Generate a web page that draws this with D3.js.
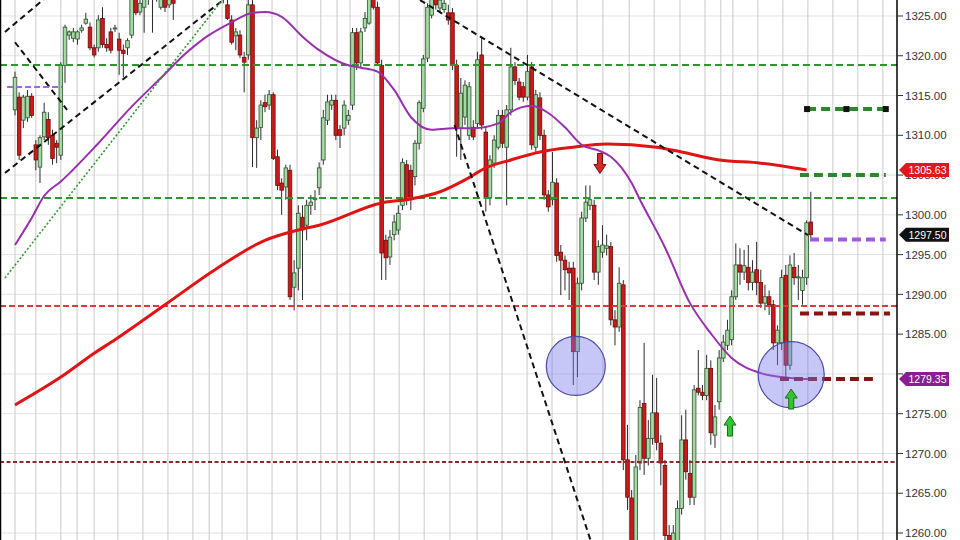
<!DOCTYPE html>
<html><head><meta charset="utf-8">
<script src="https://cdn.jsdelivr.net/npm/d3@7"></script>
<style>body{margin:0;background:#fff}svg{display:block}</style>
</head><body><svg id="c" width="960" height="540"></svg>
<script>
// ---- candle data (4h bars), prices ----
const opens=[1313.2,1314.8,1311.9,1312.2,1314.9,1308.8,1306.0,1309.8,1312.0,1310.0,1309.0,1307.5,1318.8,1322.6,1322.2,1322.1,1323.2,1324.1,1323.6,1321.0,1321.0,1324.7,1321.4,1323.0,1323.4,1322.1,1320.7,1321.0,1322.6,1327.3,1325.5,1326.1,1327.6,1328.0,1328.3,1326.1,1327.4,1326.4,1327.6,1327.6,1328.9,1329.8,1328.9,1330.5,1331.4,1330.1,1329.3,1330.1,1328.9,1328.0,1328.5,1326.4,1324.5,1322.5,1322.6,1319.8,1320.1,1326.4,1309.7,1311.0,1314.1,1313.8,1315.1,1307.3,1304.0,1303.5,1305.6,1290.9,1293.3,1299.7,1298.7,1301.2,1301.9,1303.4,1306.9,1311.9,1313.8,1314.4,1310.7,1310.9,1311.9,1313.8,1322.9,1319.1,1323.5,1324.1,1327.4,1326.1,1318.8,1296.8,1294.7,1297.5,1298.1,1301.2,1306.3,1305.6,1304.8,1309.0,1313.4,1319.7,1325.1,1327.6,1326.0,1325.8,1325.4,1325.4,1318.8,1310.9,1312.3,1310.0,1311.0,1311.5,1320.1,1310.4,1302.1,1306.5,1308.5,1312.5,1308.5,1313.2,1318.6,1316.7,1316.1,1314.8,1318.6,1308.5,1314.7,1310.0,1302.5,1301.9,1304.0,1295.3,1294.3,1293.3,1293.3,1282.8,1291.4,1299.6,1301.2,1301.2,1292.8,1295.3,1295.8,1296.0,1286.8,1285.9,1291.2,1269.2,1264.4,1258.5,1268.8,1276.3,1269.4,1271.9,1275.1,1271.3,1268.5,1259.7,1258.1,1258.5,1263.1,1271.7,1267.5,1264.5,1278.2,1277.7,1277.3,1280.7,1272.3,1276.5,1282.0,1283.6,1284.3,1289.7,1293.7,1292.8,1293.4,1291.5,1293.1,1291.5,1288.9,1289.7,1288.7,1283.9,1283.9,1292.4,1281.1,1293.4,1292.1,1290.5,1292.1,1299.1];
const highs=[1318.0,1315.4,1315.1,1315.7,1315.3,1309.4,1310.0,1314.1,1312.9,1310.7,1309.4,1319.2,1323.9,1323.2,1323.5,1323.2,1323.9,1325.4,1324.2,1321.4,1325.1,1326.1,1322.2,1323.5,1323.9,1322.9,1321.4,1322.2,1327.6,1327.6,1327.3,1327.6,1328.9,1328.9,1328.9,1328.3,1328.0,1328.3,1328.3,1329.5,1330.5,1330.8,1331.0,1332.0,1332.0,1330.8,1330.8,1330.8,1329.5,1329.3,1328.9,1327.6,1325.1,1323.5,1323.2,1320.5,1327.0,1327.0,1311.9,1314.4,1315.1,1315.7,1315.4,1308.2,1304.6,1306.3,1306.3,1294.3,1301.2,1301.2,1301.9,1302.5,1303.1,1306.6,1313.2,1315.1,1315.1,1315.1,1311.3,1314.4,1313.2,1323.5,1323.5,1323.5,1325.5,1328.0,1328.0,1326.8,1319.5,1297.5,1298.1,1300.0,1301.2,1307.1,1306.9,1306.3,1309.4,1314.4,1320.1,1326.6,1328.3,1328.3,1327.6,1327.4,1326.4,1326.0,1319.5,1317.2,1316.9,1316.7,1311.9,1320.5,1322.4,1310.9,1307.5,1310.0,1313.2,1313.2,1313.8,1321.0,1319.2,1317.2,1316.7,1320.1,1319.2,1315.7,1315.4,1310.7,1303.1,1307.9,1304.6,1296.2,1294.9,1294.1,1294.1,1292.1,1300.4,1303.7,1303.7,1301.9,1296.8,1298.7,1297.5,1296.6,1288.0,1293.4,1291.8,1273.6,1265.4,1269.8,1276.7,1283.9,1274.2,1279.9,1279.5,1272.3,1269.2,1261.0,1261.0,1264.1,1274.8,1275.5,1269.2,1278.6,1283.0,1278.6,1282.4,1281.7,1276.1,1283.0,1284.9,1286.8,1290.5,1296.4,1295.8,1295.6,1296.2,1294.3,1296.6,1293.1,1291.2,1290.5,1289.3,1286.1,1293.1,1293.7,1294.9,1295.2,1293.7,1293.1,1299.3,1302.9];
const lows=[1312.5,1306.9,1310.9,1311.7,1312.2,1305.6,1304.0,1309.4,1308.8,1306.3,1306.5,1306.9,1316.6,1322.0,1321.7,1321.4,1322.9,1323.9,1320.7,1319.8,1320.5,1321.0,1320.5,1320.3,1323.0,1317.6,1317.3,1320.1,1322.2,1325.1,1325.1,1322.9,1326.4,1322.9,1326.8,1325.8,1325.5,1326.0,1324.5,1327.3,1328.5,1328.3,1328.5,1330.1,1329.5,1328.5,1328.5,1328.3,1327.4,1327.3,1326.6,1324.5,1321.4,1320.7,1319.7,1315.4,1319.5,1306.0,1305.9,1309.4,1312.9,1313.2,1306.9,1303.1,1300.0,1301.9,1289.3,1288.0,1290.5,1289.3,1296.8,1300.0,1300.6,1302.5,1306.3,1311.3,1313.2,1309.4,1308.4,1310.0,1311.3,1313.2,1318.2,1318.5,1323.0,1323.9,1325.8,1318.8,1291.8,1291.8,1293.7,1296.8,1297.5,1300.6,1301.2,1300.6,1303.7,1308.2,1312.9,1319.2,1324.7,1325.8,1325.5,1325.4,1323.9,1318.2,1307.3,1306.9,1311.3,1309.4,1309.4,1310.9,1310.7,1300.4,1301.2,1305.9,1308.2,1308.4,1301.2,1312.5,1316.3,1314.4,1314.2,1314.4,1308.2,1307.9,1309.4,1301.9,1300.4,1301.2,1294.1,1289.9,1290.5,1289.3,1278.6,1279.6,1290.5,1299.1,1300.6,1291.8,1291.2,1294.6,1294.9,1286.1,1283.6,1285.3,1267.9,1262.9,1256.6,1256.6,1267.9,1267.3,1268.5,1271.1,1270.4,1266.0,1258.1,1256.6,1256.6,1257.6,1262.3,1266.7,1263.5,1263.5,1277.3,1276.7,1276.7,1271.1,1270.7,1275.5,1281.5,1283.0,1283.6,1289.3,1291.2,1291.8,1290.5,1290.5,1289.9,1288.3,1288.0,1287.4,1283.0,1281.1,1283.0,1279.5,1280.5,1291.2,1289.3,1288.7,1291.2,1296.8];
const closes=[1317.3,1307.5,1314.8,1314.9,1312.5,1306.9,1309.7,1312.9,1309.7,1307.1,1308.5,1318.8,1323.6,1323.0,1323.0,1323.0,1323.5,1324.6,1321.0,1320.1,1324.5,1321.4,1321.0,1320.7,1323.5,1320.7,1320.3,1321.9,1327.3,1325.4,1326.6,1327.3,1328.3,1327.4,1327.6,1327.6,1326.1,1327.6,1326.6,1328.9,1329.8,1328.9,1330.5,1331.4,1330.1,1329.3,1330.1,1328.9,1328.0,1328.5,1327.3,1324.7,1321.7,1323.0,1320.1,1319.2,1326.4,1309.7,1310.9,1313.8,1313.6,1315.1,1307.1,1303.7,1303.1,1305.9,1289.7,1292.7,1300.2,1298.1,1301.2,1301.6,1302.1,1305.9,1312.2,1314.2,1314.4,1310.0,1310.0,1313.8,1312.5,1322.9,1319.1,1323.0,1324.7,1327.4,1326.1,1319.1,1295.2,1294.6,1297.2,1299.1,1300.2,1306.6,1301.9,1301.9,1309.0,1314.1,1319.6,1326.1,1327.6,1326.4,1327.0,1326.6,1324.5,1318.8,1310.9,1315.3,1316.3,1316.1,1309.8,1319.5,1311.3,1302.1,1306.9,1309.4,1312.5,1309.0,1313.2,1318.6,1316.9,1314.8,1314.8,1318.0,1308.8,1315.1,1310.0,1302.5,1301.0,1304.1,1294.9,1294.3,1293.1,1292.7,1282.8,1291.4,1299.6,1301.6,1301.9,1292.8,1296.0,1296.2,1296.1,1286.8,1285.9,1291.4,1269.2,1264.5,1258.5,1268.3,1275.8,1269.4,1271.9,1275.1,1271.4,1268.8,1259.7,1258.5,1260.0,1263.1,1271.7,1267.7,1264.5,1278.0,1277.7,1277.3,1280.7,1272.6,1274.6,1282.0,1284.0,1285.5,1289.7,1293.7,1292.8,1293.6,1291.5,1292.8,1291.5,1288.9,1289.7,1288.7,1283.9,1285.5,1292.1,1281.1,1293.7,1292.1,1292.2,1292.1,1299.0,1297.5];

// moving averages (bar index, price)
const maPurpleIdx=[0,4,7,11,20,28,35,41,46,52,57,60,64,69,73,80,83,87,91,95,100,105,110,116,119,124,128,132,136,140,143,148,150,156,162,167,172,179,186,191];
const maPurpleVal=[1296.2,1299.6,1302.4,1304.2,1309.0,1313.6,1317.2,1320.3,1322.4,1324.2,1325.4,1325.5,1324.9,1322.4,1320.7,1318.8,1318.5,1318.0,1315.7,1312.3,1310.7,1310.9,1310.9,1311.5,1312.9,1313.7,1312.8,1311.0,1308.8,1308.1,1307.3,1304.0,1301.9,1295.9,1288.9,1285.1,1282.0,1280.1,1279.5,1279.35];
const maRedIdx=[0,11,19,24,36,48,60,68,73,88,95,102,108,113,119,126,134,142,154,160,169,179,190];
const maRedVal=[1276.1,1279.6,1282.6,1284.3,1288.7,1293.1,1296.8,1298.1,1298.7,1301.5,1302.0,1302.9,1304.4,1305.9,1306.9,1307.9,1308.5,1308.9,1308.5,1307.9,1306.9,1306.5,1305.63];

// session separators (bar index)
const sessionIdx=[0,5,11,14.9,19,24.7,30.7,36.7,42.7,46.6,49.7,55.7,61.7,67.7,73.4,77.3,80.4,86.2,92.2,98.2,104.4,110.9,116.9,122.9,128.9,134.9,141.1,147.4,153.4,159.6,165.6,169.4,172.3,178.3,184.3,190.3,196.3,202.3,208.3];

// axis ticks
const tickVals=[1260,1265,1270,1275,1280,1285,1290,1295,1300,1305,1310,1315,1320,1325];

// long horizontal levels
const levelVals=[1318.84,1302.12,1288.54,1268.93];
const levelKind=["green","green","red","dark"];

// short target levels on the right (value, from bar, to bar)
const shortVals=[1313.3,1305.0,1296.9,1287.6,1279.35];
const shortFrom=[190.1,188.4,190.8,188.4,183.6];
const shortTo=[209.0,209.0,209.0,210.0,205.9];
const shortKind=["greenMarked","green","purple","dark","dark"];

// trend lines (bar index / price end points)
const trendX1=[-2.4,-2.4,0,-2.4,97.2,105.5,-1.9];
const trendV1=[1323.0,1305.26,1321.7,1292.06,1327.0,1311.3,1316.07];
const trendX2=[10,49.9,12.5,49.7,190.3,138.5,11.3];
const trendV2=[1328.46,1327.0,1313.2,1327.0,1297.46,1258.5,1316.07];
const trendKind=["black","black","black","dotted","black","black","purple"];

// highlight circles
const circleIdx=[134.6,186.3];
const circleVal=[1281.0,1279.9];
const circleR=[29.5,33];

// arrows: bar index, tip price, direction
const arrowIdx=[140.4,171.6,186.3];
const arrowTip=[1305.2,1274.7,1278.1];
const arrowDir=["down","up","up"];

// price labels
const labelVals=[1305.63,1297.50,1279.35];
const labelFill=["#e3161d","#111111","#8b1c92"];

// ---- drawing ----
const svg=d3.select("#c");
const W=960,H=540,AX=897;
const x=d3.scaleLinear().domain([0,191]).range([15,810.8]);
const y=d3.scaleLinear().domain([1259.12,1327.01]).range([540,0]);
const FONT="Liberation Sans, Arial, sans-serif";

svg.append("rect").attr("width",W).attr("height",H).attr("fill","#fff");
svg.append("defs").append("clipPath").attr("id","clip").append("rect")
  .attr("x",1).attr("y",0).attr("width",AX-1).attr("height",H);
const g=svg.append("g").attr("clip-path","url(#clip)");

// grid
g.selectAll(".hg").data(tickVals).enter().append("line")
  .attr("x1",0).attr("x2",AX).attr("y1",d=>y(d)).attr("y2",d=>y(d))
  .attr("stroke","#e2e2e2").attr("stroke-width",1);
g.selectAll(".vg").data(sessionIdx).enter().append("line")
  .attr("x1",d=>x(d)).attr("x2",d=>x(d)).attr("y1",0).attr("y2",H)
  .attr("stroke","#c9c9c9").attr("stroke-width",1);

// candles
const idx=d3.range(opens.length);
g.selectAll(".wick").data(idx).enter().append("line")
  .attr("x1",i=>x(i)).attr("x2",i=>x(i))
  .attr("y1",i=>y(highs[i])).attr("y2",i=>y(lows[i]))
  .attr("stroke","#2b2b2b").attr("stroke-width",1);
g.selectAll(".body").data(idx).enter().append("rect")
  .attr("x",i=>x(i)-1.8).attr("width",3.6)
  .attr("y",i=>y(Math.max(opens[i],closes[i])))
  .attr("height",i=>Math.max(1,Math.abs(y(opens[i])-y(closes[i]))))
  .attr("fill",i=>closes[i]>=opens[i]?"#a3d9a3":"#cc1a1a")
  .attr("stroke",i=>closes[i]>=opens[i]?"#2f4f2f":"#6e0b0b")
  .attr("stroke-width",0.8);

// long levels
const levelStyle={green:{c:"#2f962f",d:"7,4",w:2},red:{c:"#e0383a",d:"6,3",w:2},dark:{c:"#8a2a2a",d:"4,2.5",w:2}};
g.selectAll(".lvl").data(levelVals).enter().append("line")
  .attr("x1",0).attr("x2",AX).attr("y1",d=>y(d)).attr("y2",d=>y(d))
  .attr("stroke",(d,i)=>levelStyle[levelKind[i]].c)
  .attr("stroke-width",(d,i)=>levelStyle[levelKind[i]].w)
  .attr("stroke-dasharray",(d,i)=>levelStyle[levelKind[i]].d);

// moving averages
const line=d3.line().curve(d3.curveMonotoneX);
g.append("path").attr("d",line(maRedIdx.map((d,i)=>[x(d),y(maRedVal[i])])))
  .attr("fill","none").attr("stroke","#e01414").attr("stroke-width",3);
g.append("path").attr("d",line(maPurpleIdx.map((d,i)=>[x(d),y(maPurpleVal[i])])))
  .attr("fill","none").attr("stroke","#9a2fae").attr("stroke-width",2);

// trend lines
const trendStyle={black:{c:"#111",d:"6,4",w:2},dotted:{c:"#2f9a2f",d:"2,2",w:1.6},purple:{c:"#9a6ae0",d:"6,3",w:2}};
g.selectAll(".tr").data(trendX1).enter().append("line")
  .attr("x1",(d,i)=>x(trendX1[i])).attr("y1",(d,i)=>y(trendV1[i]))
  .attr("x2",(d,i)=>x(trendX2[i])).attr("y2",(d,i)=>y(trendV2[i]))
  .attr("stroke",(d,i)=>trendStyle[trendKind[i]].c)
  .attr("stroke-width",(d,i)=>trendStyle[trendKind[i]].w)
  .attr("stroke-dasharray",(d,i)=>trendStyle[trendKind[i]].d);

// short levels
const shortStyle={greenMarked:"#2a8a2a",green:"#2a8a2a",purple:"#a05ae0",dark:"#8b1212"};
g.selectAll(".sl").data(shortVals).enter().append("line")
  .attr("x1",(d,i)=>x(shortFrom[i])).attr("x2",(d,i)=>x(shortTo[i]))
  .attr("y1",d=>y(d)).attr("y2",d=>y(d))
  .attr("stroke",(d,i)=>shortStyle[shortKind[i]])
  .attr("stroke-width",4).attr("stroke-dasharray","9,5");
shortVals.forEach((v,i)=>{
  if(shortKind[i]!=="greenMarked")return;
  const a=shortFrom[i],b=shortTo[i];
  [a,(a+b)/2,b].forEach(t=>{
    g.append("rect").attr("x",x(t)-3).attr("y",y(v)-3).attr("width",6).attr("height",6).attr("fill","#111");
  });
});

// circles
g.selectAll(".circ").data(circleIdx).enter().append("circle")
  .attr("cx",d=>x(d)).attr("cy",(d,i)=>y(circleVal[i])).attr("r",(d,i)=>circleR[i])
  .attr("fill","rgba(120,120,235,0.42)").attr("stroke","#4a4aa8").attr("stroke-width",1.2);

// arrows
arrowIdx.forEach((d,i)=>{
  const cx=x(d),ty=y(arrowTip[i]),s=arrowDir[i]==="up"?1:-1;
  const pts=[[0,0],[6,9],[2.5,9],[2.5,20],[-2.5,20],[-2.5,9],[-6,9]].map(p=>[cx+p[0],ty+s*p[1]]);
  g.append("polygon").attr("points",pts.map(p=>p.join(",")).join(" "))
   .attr("fill",arrowDir[i]==="up"?"#35c435":"#d52a2a")
   .attr("stroke",arrowDir[i]==="up"?"#137013":"#701010").attr("stroke-width",1);
});

// frame & axis
svg.append("line").attr("x1",0.5).attr("x2",0.5).attr("y1",0).attr("y2",H).attr("stroke","#000").attr("stroke-width",1.5);
svg.append("line").attr("x1",AX).attr("x2",AX).attr("y1",0).attr("y2",H).attr("stroke","#000").attr("stroke-width",1.5);
const ax=svg.append("g");
ax.selectAll(".tk").data(tickVals).enter().append("line")
  .attr("x1",AX).attr("x2",AX+6).attr("y1",d=>y(d)).attr("y2",d=>y(d)).attr("stroke","#333");
// a tick label just above a price flag is fully covered by it, so it is not drawn
const tickText=tickVals.filter(t=>!labelVals.some(v=>t>v&&t-v<1));
ax.selectAll(".tl").data(tickText).enter().append("text")
  .attr("x",AX+8).attr("y",d=>y(d)).attr("dy","0.36em")
  .attr("font-family",FONT).attr("font-size",11.5).attr("fill","#333")
  .text(d=>d3.format(".2f")(d));

// price labels
labelVals.forEach((v,i)=>{
  const cy=y(v),l=AX+2,r=949,h=7;
  svg.append("polygon").attr("points",[[l,cy],[l+7,cy-h],[r,cy-h],[r,cy+h],[l+7,cy+h]].map(p=>p.join(",")).join(" "))
    .attr("fill",labelFill[i]);
  svg.append("text").attr("x",(l+7+r)/2).attr("y",cy).attr("dy","0.36em").attr("text-anchor","middle")
    .attr("font-family",FONT).attr("font-size",11).attr("fill","#fff")
    .attr("textLength",38).attr("lengthAdjust","spacingAndGlyphs")
    .text(d3.format(".2f")(v));
});
</script></body></html>
